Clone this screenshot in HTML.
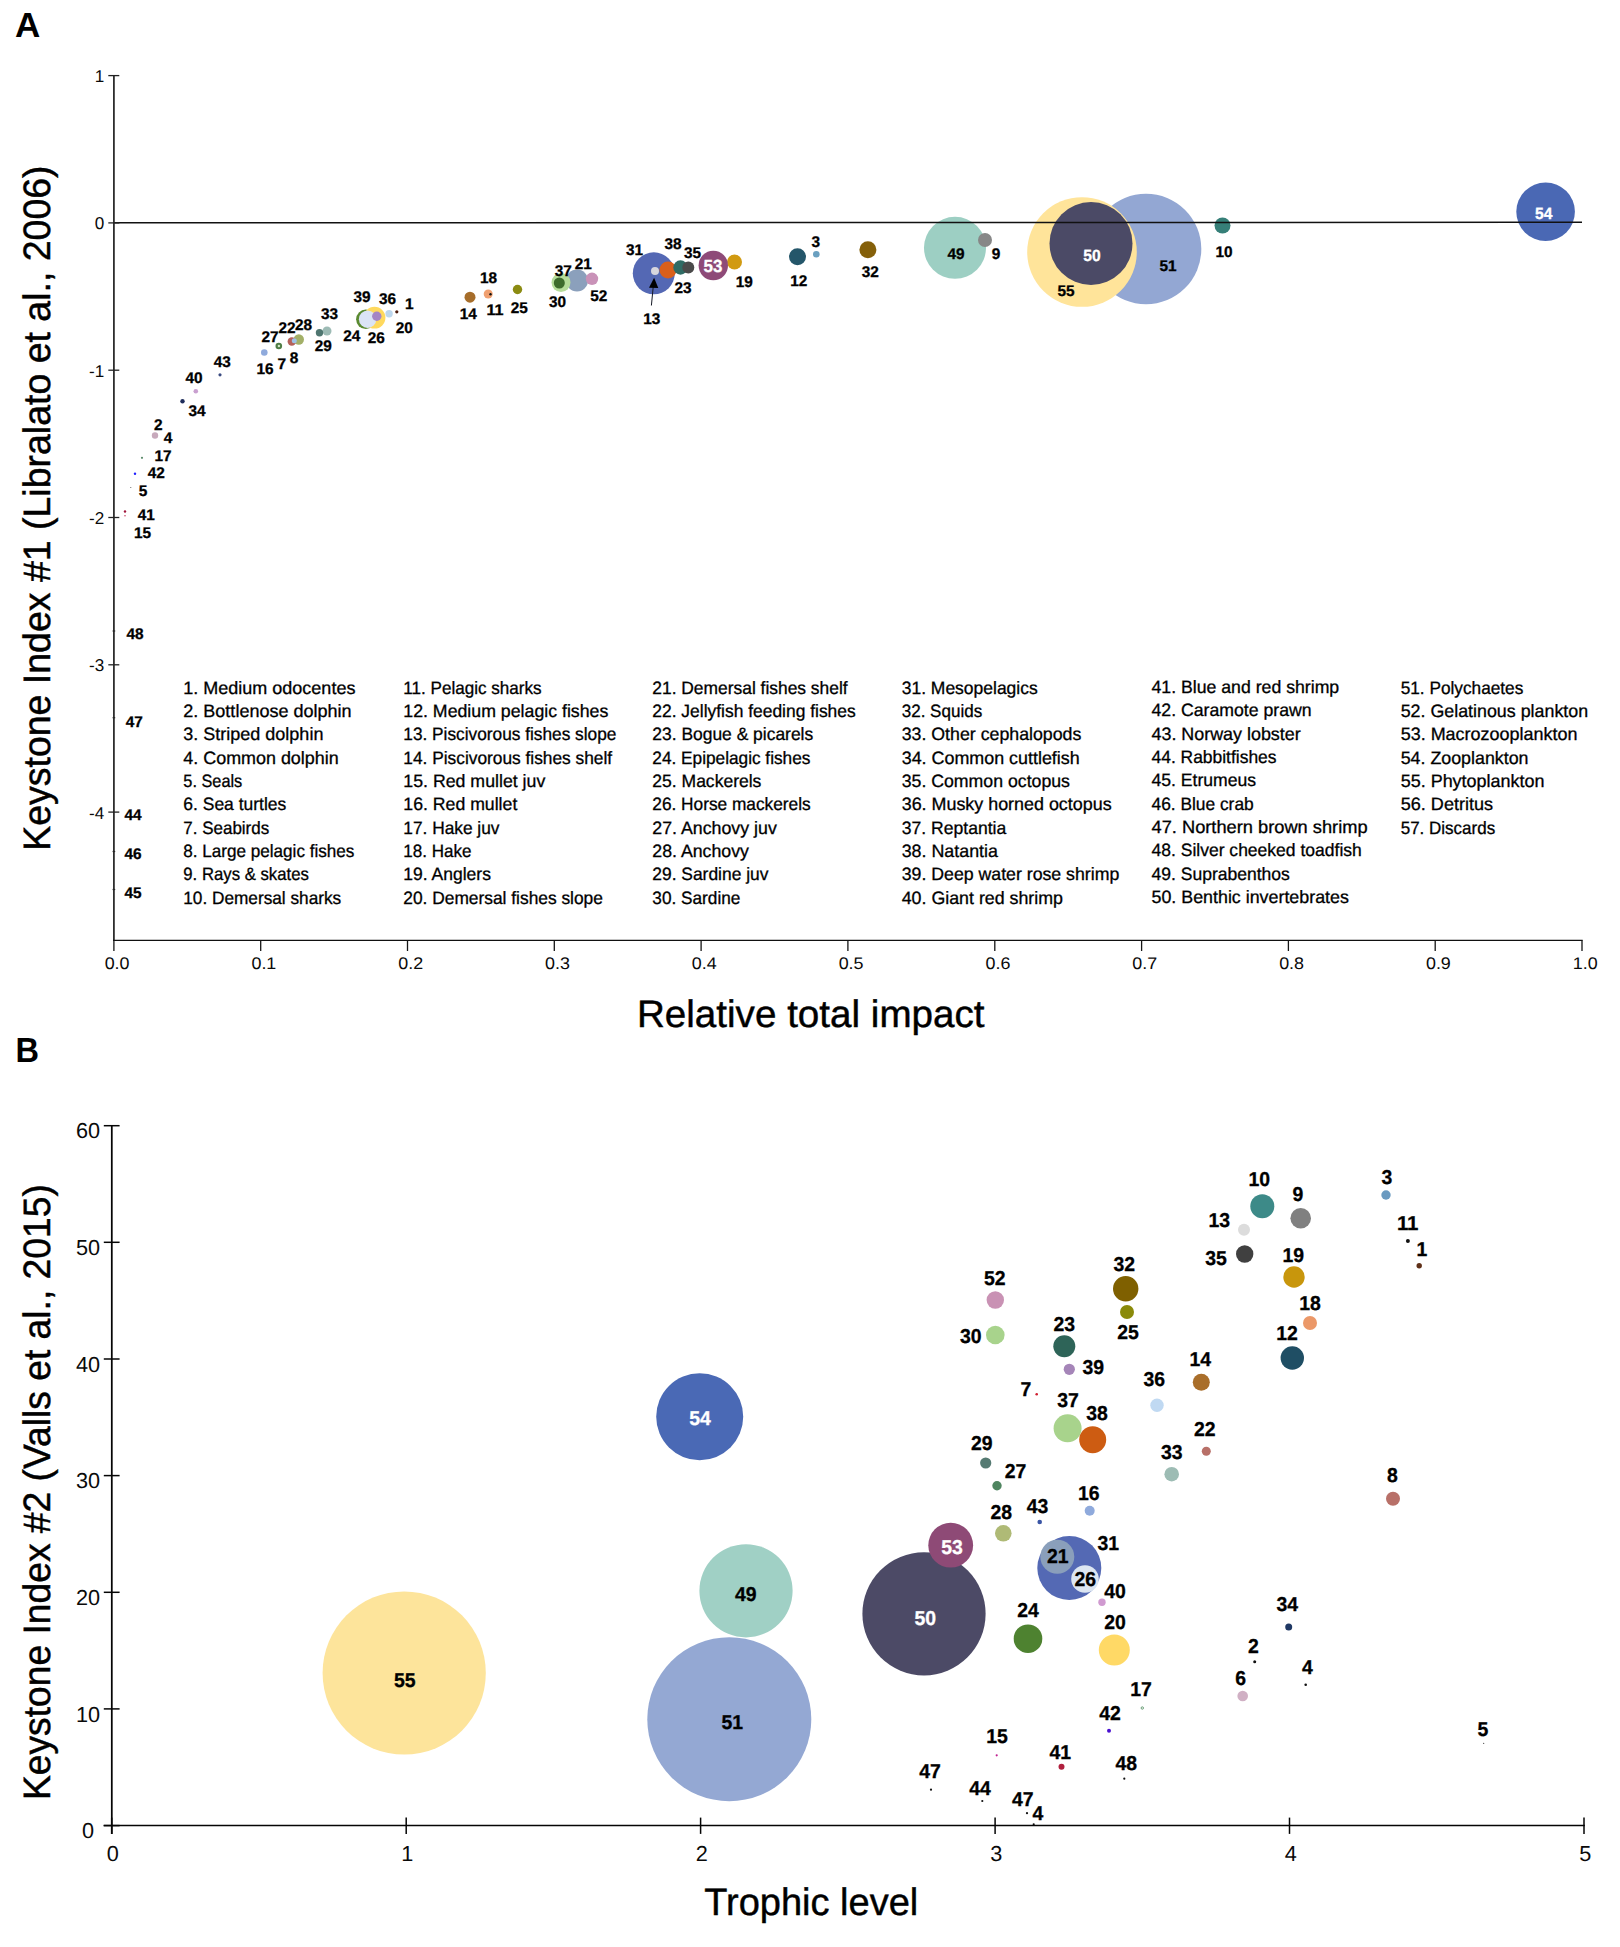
<!DOCTYPE html>
<html lang="en"><head><meta charset="utf-8"><title>Keystone indices</title>
<style>
html,body{margin:0;padding:0;background:#fff}
svg{display:block}
text{font-family:"Liberation Sans",sans-serif;fill:#000;text-rendering:geometricPrecision}
.b{font-weight:700;text-anchor:middle;stroke-width:0.3px}
.t{fill:#0a0a0a}
.p{font-weight:700}
.l{stroke:#000;stroke-width:0.3px}
.r{stroke:#000;stroke-width:0.45px}
</style></head><body>
<svg width="1620" height="1947" viewBox="0 0 1620 1947">
<rect width="1620" height="1947" fill="#fff"/>
<circle cx="1146.0" cy="249.0" r="55.30" fill="#93a7d3"/>
<circle cx="1082.0" cy="252.0" r="54.80" fill="#ffe49a"/>
<circle cx="1091.0" cy="243.5" r="41.50" fill="#4b4a66"/>
<circle cx="955.0" cy="247.8" r="31.00" fill="#9dcfc3"/>
<circle cx="985.0" cy="240.0" r="7.00" fill="#878787"/>
<circle cx="1222.5" cy="225.5" r="8.00" fill="#367f78"/>
<circle cx="1545.6" cy="211.7" r="29.30" fill="#4a68b4"/>
<circle cx="867.9" cy="249.8" r="8.50" fill="#85600a"/>
<circle cx="797.5" cy="256.8" r="8.50" fill="#24566a"/>
<circle cx="816.3" cy="254.3" r="3.30" fill="#6aa0c0"/>
<circle cx="734.5" cy="262.0" r="7.50" fill="#d19a11"/>
<circle cx="653.8" cy="273.3" r="21.00" fill="#5468b4"/>
<circle cx="655.0" cy="271.0" r="4.00" fill="#d6d6de"/>
<circle cx="668.0" cy="270.0" r="8.50" fill="#d95f1a"/>
<circle cx="680.5" cy="267.5" r="7.20" fill="#2f6b64"/>
<circle cx="688.3" cy="267.5" r="6.00" fill="#4a4a4a"/>
<circle cx="713.3" cy="265.5" r="14.70" fill="#8e4a78"/>
<circle cx="577.0" cy="280.5" r="11.00" fill="#8ba0bc"/>
<circle cx="561.0" cy="282.5" r="9.50" fill="#b5dc9a"/>
<circle cx="559.3" cy="283.0" r="5.50" fill="#3d6b2c"/>
<circle cx="592.0" cy="278.8" r="6.20" fill="#c992b8"/>
<circle cx="517.5" cy="289.5" r="4.70" fill="#8b8b12"/>
<circle cx="488.2" cy="294.0" r="4.50" fill="#f0a070"/>
<circle cx="490.5" cy="294.2" r="1.20" fill="#111"/>
<circle cx="470.0" cy="297.2" r="5.50" fill="#a66d2a"/>
<circle cx="396.8" cy="311.8" r="1.60" fill="#4a1a0c"/>
<circle cx="389.1" cy="313.8" r="3.70" fill="#bdd7ee"/>
<circle cx="365.8" cy="319.3" r="9.70" fill="#5a8a30"/>
<circle cx="374.5" cy="317.7" r="10.90" fill="#ffd95e"/>
<circle cx="367.6" cy="319.2" r="8.70" fill="#dbe4f5"/>
<circle cx="376.8" cy="316.2" r="4.70" fill="#a585c4"/>
<circle cx="327.0" cy="331.0" r="4.50" fill="#9dbbb5"/>
<circle cx="319.5" cy="332.8" r="3.70" fill="#4f7670"/>
<circle cx="298.8" cy="339.5" r="5.20" fill="#a3b068"/>
<circle cx="291.8" cy="341.5" r="4.20" fill="#b5615a"/>
<circle cx="294.3" cy="340.8" r="2.50" fill="#9dc3e6"/>
<circle cx="278.8" cy="346.0" r="3.30" fill="#4f7d45"/>
<circle cx="278.9" cy="346.0" r="1.20" fill="#d4e8c8"/>
<circle cx="264.3" cy="352.5" r="3.30" fill="#8faadc"/>
<circle cx="220.0" cy="374.8" r="1.60" fill="#3a4a80"/>
<circle cx="195.8" cy="391.3" r="2.30" fill="#c9a0d0"/>
<circle cx="182.5" cy="401.3" r="2.20" fill="#1f2d5c"/>
<circle cx="155.0" cy="435.5" r="3.20" fill="#c7a9bb"/>
<circle cx="142.0" cy="457.8" r="1.10" fill="#5a8a6a"/>
<circle cx="135.0" cy="473.8" r="1.20" fill="#2020ff"/>
<circle cx="130.8" cy="487.5" r="0.50" fill="#444"/>
<circle cx="125.0" cy="511.5" r="1.20" fill="#a0153b"/>
<circle cx="125.0" cy="515.8" r="0.80" fill="#c84868"/>
<line x1="113.9" y1="222.8" x2="1582.0" y2="222.3" stroke="#111" stroke-width="1.5"/>
<line x1="113.9" y1="74.9" x2="113.9" y2="941.1" stroke="#2e2e2e" stroke-width="1.8"/>
<line x1="113.0" y1="940.4" x2="1582.7" y2="940.4" stroke="#111" stroke-width="1.4"/>
<line x1="108.3" y1="75.6" x2="119.3" y2="75.6" stroke="#222" stroke-width="1.3"/>
<text class="t" x="104.3" y="82.0" font-size="17.1" text-anchor="end">1</text>
<line x1="108.3" y1="222.9" x2="119.3" y2="222.9" stroke="#222" stroke-width="1.3"/>
<text class="t" x="104.3" y="229.3" font-size="17.1" text-anchor="end">0</text>
<line x1="108.3" y1="370.2" x2="119.3" y2="370.2" stroke="#222" stroke-width="1.3"/>
<text class="t" x="104.3" y="376.6" font-size="17.1" text-anchor="end">-1</text>
<line x1="108.3" y1="517.5" x2="119.3" y2="517.5" stroke="#222" stroke-width="1.3"/>
<text class="t" x="104.3" y="523.9" font-size="17.1" text-anchor="end">-2</text>
<line x1="108.3" y1="664.8" x2="119.3" y2="664.8" stroke="#222" stroke-width="1.3"/>
<text class="t" x="104.3" y="671.2" font-size="17.1" text-anchor="end">-3</text>
<line x1="108.3" y1="812.1" x2="119.3" y2="812.1" stroke="#222" stroke-width="1.3"/>
<text class="t" x="104.3" y="818.5" font-size="17.1" text-anchor="end">-4</text>
<line x1="113.9" y1="940.4" x2="113.9" y2="951.0" stroke="#151515" stroke-width="1.3"/>
<text class="t" x="117.1" y="969" font-size="16.8" text-anchor="middle" textLength="24.9" lengthAdjust="spacingAndGlyphs">0.0</text>
<line x1="260.7" y1="940.4" x2="260.7" y2="951.0" stroke="#151515" stroke-width="1.3"/>
<text class="t" x="263.9" y="969" font-size="16.8" text-anchor="middle" textLength="24.9" lengthAdjust="spacingAndGlyphs">0.1</text>
<line x1="407.5" y1="940.4" x2="407.5" y2="951.0" stroke="#151515" stroke-width="1.3"/>
<text class="t" x="410.7" y="969" font-size="16.8" text-anchor="middle" textLength="24.9" lengthAdjust="spacingAndGlyphs">0.2</text>
<line x1="554.3" y1="940.4" x2="554.3" y2="951.0" stroke="#151515" stroke-width="1.3"/>
<text class="t" x="557.5" y="969" font-size="16.8" text-anchor="middle" textLength="24.9" lengthAdjust="spacingAndGlyphs">0.3</text>
<line x1="701.1" y1="940.4" x2="701.1" y2="951.0" stroke="#151515" stroke-width="1.3"/>
<text class="t" x="704.3" y="969" font-size="16.8" text-anchor="middle" textLength="24.9" lengthAdjust="spacingAndGlyphs">0.4</text>
<line x1="847.9" y1="940.4" x2="847.9" y2="951.0" stroke="#151515" stroke-width="1.3"/>
<text class="t" x="851.1" y="969" font-size="16.8" text-anchor="middle" textLength="24.9" lengthAdjust="spacingAndGlyphs">0.5</text>
<line x1="994.8" y1="940.4" x2="994.8" y2="951.0" stroke="#151515" stroke-width="1.3"/>
<text class="t" x="998.0" y="969" font-size="16.8" text-anchor="middle" textLength="24.9" lengthAdjust="spacingAndGlyphs">0.6</text>
<line x1="1141.6" y1="940.4" x2="1141.6" y2="951.0" stroke="#151515" stroke-width="1.3"/>
<text class="t" x="1144.8" y="969" font-size="16.8" text-anchor="middle" textLength="24.9" lengthAdjust="spacingAndGlyphs">0.7</text>
<line x1="1288.4" y1="940.4" x2="1288.4" y2="951.0" stroke="#151515" stroke-width="1.3"/>
<text class="t" x="1291.6" y="969" font-size="16.8" text-anchor="middle" textLength="24.9" lengthAdjust="spacingAndGlyphs">0.8</text>
<line x1="1435.2" y1="940.4" x2="1435.2" y2="951.0" stroke="#151515" stroke-width="1.3"/>
<text class="t" x="1438.4" y="969" font-size="16.8" text-anchor="middle" textLength="24.9" lengthAdjust="spacingAndGlyphs">0.9</text>
<line x1="1582.0" y1="940.4" x2="1582.0" y2="951.0" stroke="#151515" stroke-width="1.3"/>
<text class="t" x="1585.2" y="969" font-size="16.8" text-anchor="middle" textLength="24.9" lengthAdjust="spacingAndGlyphs">1.0</text>
<line x1="112.6" y1="631.0" x2="115.2" y2="631.0" stroke="#262626" stroke-width="1.2"/>
<line x1="112.6" y1="717.7" x2="115.2" y2="717.7" stroke="#262626" stroke-width="1.2"/>
<line x1="112.6" y1="851.5" x2="115.2" y2="851.5" stroke="#262626" stroke-width="1.2"/>
<line x1="112.6" y1="889.5" x2="115.2" y2="889.5" stroke="#262626" stroke-width="1.2"/>
<line x1="653.2" y1="287.0" x2="651.4" y2="305.5" stroke="#141824" stroke-width="1.0"/>
<polygon points="654.1,277.8 649,287.8 658.3,288" fill="#000"/>
<text class="b" x="146.3" y="520.0" font-size="15.46" textLength="17.1" lengthAdjust="spacingAndGlyphs" style="fill:#000;stroke:#000">41</text>
<text class="b" x="142.5" y="538.0" font-size="15.46" textLength="17.1" lengthAdjust="spacingAndGlyphs" style="fill:#000;stroke:#000">15</text>
<text class="b" x="143.0" y="495.8" font-size="15.46" textLength="8.6" lengthAdjust="spacingAndGlyphs" style="fill:#000;stroke:#000">5</text>
<text class="b" x="156.3" y="477.5" font-size="15.46" textLength="17.1" lengthAdjust="spacingAndGlyphs" style="fill:#000;stroke:#000">42</text>
<text class="b" x="163.0" y="460.5" font-size="15.46" textLength="17.1" lengthAdjust="spacingAndGlyphs" style="fill:#000;stroke:#000">17</text>
<text class="b" x="168.0" y="442.5" font-size="15.46" textLength="8.6" lengthAdjust="spacingAndGlyphs" style="fill:#000;stroke:#000">4</text>
<text class="b" x="158.3" y="430.0" font-size="15.46" textLength="8.6" lengthAdjust="spacingAndGlyphs" style="fill:#000;stroke:#000">2</text>
<text class="b" x="197.0" y="415.8" font-size="15.46" textLength="17.1" lengthAdjust="spacingAndGlyphs" style="fill:#000;stroke:#000">34</text>
<text class="b" x="194.0" y="383.3" font-size="15.46" textLength="17.1" lengthAdjust="spacingAndGlyphs" style="fill:#000;stroke:#000">40</text>
<text class="b" x="222.3" y="366.8" font-size="15.46" textLength="17.1" lengthAdjust="spacingAndGlyphs" style="fill:#000;stroke:#000">43</text>
<text class="b" x="265.0" y="373.8" font-size="15.46" textLength="17.1" lengthAdjust="spacingAndGlyphs" style="fill:#000;stroke:#000">16</text>
<text class="b" x="281.8" y="369.3" font-size="15.46" textLength="8.6" lengthAdjust="spacingAndGlyphs" style="fill:#000;stroke:#000">7</text>
<text class="b" x="294.0" y="362.5" font-size="15.46" textLength="8.6" lengthAdjust="spacingAndGlyphs" style="fill:#000;stroke:#000">8</text>
<text class="b" x="270.0" y="342.0" font-size="15.46" textLength="17.1" lengthAdjust="spacingAndGlyphs" style="fill:#000;stroke:#000">27</text>
<text class="b" x="287.0" y="333.0" font-size="15.46" textLength="17.1" lengthAdjust="spacingAndGlyphs" style="fill:#000;stroke:#000">22</text>
<text class="b" x="303.5" y="330.3" font-size="15.46" textLength="17.1" lengthAdjust="spacingAndGlyphs" style="fill:#000;stroke:#000">28</text>
<text class="b" x="329.5" y="319.0" font-size="15.46" textLength="17.1" lengthAdjust="spacingAndGlyphs" style="fill:#000;stroke:#000">33</text>
<text class="b" x="323.3" y="351.3" font-size="15.46" textLength="17.1" lengthAdjust="spacingAndGlyphs" style="fill:#000;stroke:#000">29</text>
<text class="b" x="351.8" y="341.0" font-size="15.46" textLength="17.1" lengthAdjust="spacingAndGlyphs" style="fill:#000;stroke:#000">24</text>
<text class="b" x="376.3" y="343.3" font-size="15.46" textLength="17.1" lengthAdjust="spacingAndGlyphs" style="fill:#000;stroke:#000">26</text>
<text class="b" x="362.0" y="301.5" font-size="15.46" textLength="17.1" lengthAdjust="spacingAndGlyphs" style="fill:#000;stroke:#000">39</text>
<text class="b" x="387.5" y="304.3" font-size="15.46" textLength="17.1" lengthAdjust="spacingAndGlyphs" style="fill:#000;stroke:#000">36</text>
<text class="b" x="409.3" y="308.8" font-size="15.46" textLength="8.6" lengthAdjust="spacingAndGlyphs" style="fill:#000;stroke:#000">1</text>
<text class="b" x="404.3" y="332.8" font-size="15.46" textLength="17.1" lengthAdjust="spacingAndGlyphs" style="fill:#000;stroke:#000">20</text>
<text class="b" x="468.3" y="319.4" font-size="15.46" textLength="17.1" lengthAdjust="spacingAndGlyphs" style="fill:#000;stroke:#000">14</text>
<text class="b" x="495.0" y="314.6" font-size="15.46" textLength="17.1" lengthAdjust="spacingAndGlyphs" style="fill:#000;stroke:#000">11</text>
<text class="b" x="488.6" y="283.0" font-size="15.46" textLength="17.1" lengthAdjust="spacingAndGlyphs" style="fill:#000;stroke:#000">18</text>
<text class="b" x="519.3" y="312.5" font-size="15.46" textLength="17.1" lengthAdjust="spacingAndGlyphs" style="fill:#000;stroke:#000">25</text>
<text class="b" x="557.5" y="306.8" font-size="15.46" textLength="17.1" lengthAdjust="spacingAndGlyphs" style="fill:#000;stroke:#000">30</text>
<text class="b" x="563.3" y="275.8" font-size="15.46" textLength="17.1" lengthAdjust="spacingAndGlyphs" style="fill:#000;stroke:#000">37</text>
<text class="b" x="583.3" y="268.8" font-size="15.46" textLength="17.1" lengthAdjust="spacingAndGlyphs" style="fill:#000;stroke:#000">21</text>
<text class="b" x="598.8" y="301.3" font-size="15.46" textLength="17.1" lengthAdjust="spacingAndGlyphs" style="fill:#000;stroke:#000">52</text>
<text class="b" x="634.5" y="254.5" font-size="15.46" textLength="17.1" lengthAdjust="spacingAndGlyphs" style="fill:#000;stroke:#000">31</text>
<text class="b" x="673.0" y="248.5" font-size="15.46" textLength="17.1" lengthAdjust="spacingAndGlyphs" style="fill:#000;stroke:#000">38</text>
<text class="b" x="692.5" y="257.5" font-size="15.46" textLength="17.1" lengthAdjust="spacingAndGlyphs" style="fill:#000;stroke:#000">35</text>
<text class="b" x="683.0" y="293.3" font-size="15.46" textLength="17.1" lengthAdjust="spacingAndGlyphs" style="fill:#000;stroke:#000">23</text>
<text class="b" x="744.3" y="286.8" font-size="15.46" textLength="17.1" lengthAdjust="spacingAndGlyphs" style="fill:#000;stroke:#000">19</text>
<text class="b" x="651.8" y="323.8" font-size="15.46" textLength="17.1" lengthAdjust="spacingAndGlyphs" style="fill:#000;stroke:#000">13</text>
<text class="b" x="798.8" y="285.5" font-size="15.46" textLength="17.1" lengthAdjust="spacingAndGlyphs" style="fill:#000;stroke:#000">12</text>
<text class="b" x="815.8" y="246.8" font-size="15.46" textLength="8.6" lengthAdjust="spacingAndGlyphs" style="fill:#000;stroke:#000">3</text>
<text class="b" x="870.2" y="276.7" font-size="15.46" textLength="17.1" lengthAdjust="spacingAndGlyphs" style="fill:#000;stroke:#000">32</text>
<text class="b" x="956.0" y="258.8" font-size="15.46" textLength="17.1" lengthAdjust="spacingAndGlyphs" style="fill:#000;stroke:#000">49</text>
<text class="b" x="996.0" y="259.0" font-size="15.46" textLength="8.6" lengthAdjust="spacingAndGlyphs" style="fill:#000;stroke:#000">9</text>
<text class="b" x="1066.0" y="296.0" font-size="15.46" textLength="17.1" lengthAdjust="spacingAndGlyphs" style="fill:#000;stroke:#000">55</text>
<text class="b" x="1168.0" y="270.8" font-size="15.46" textLength="17.1" lengthAdjust="spacingAndGlyphs" style="fill:#000;stroke:#000">51</text>
<text class="b" x="1224.0" y="257.0" font-size="15.46" textLength="17.1" lengthAdjust="spacingAndGlyphs" style="fill:#000;stroke:#000">10</text>
<text class="b" x="135.0" y="639.0" font-size="15.46" textLength="17.1" lengthAdjust="spacingAndGlyphs" style="fill:#000;stroke:#000">48</text>
<text class="b" x="134.3" y="726.7" font-size="15.46" textLength="17.1" lengthAdjust="spacingAndGlyphs" style="fill:#000;stroke:#000">47</text>
<text class="b" x="133.1" y="820.3" font-size="15.46" textLength="17.1" lengthAdjust="spacingAndGlyphs" style="fill:#000;stroke:#000">44</text>
<text class="b" x="133.1" y="858.8" font-size="15.46" textLength="17.1" lengthAdjust="spacingAndGlyphs" style="fill:#000;stroke:#000">46</text>
<text class="b" x="133.1" y="897.5" font-size="15.46" textLength="17.1" lengthAdjust="spacingAndGlyphs" style="fill:#000;stroke:#000">45</text>
<text class="b" x="1092.0" y="260.6" font-size="16.23" textLength="17.4" lengthAdjust="spacingAndGlyphs" style="fill:#fff;stroke:#fff">50</text>
<text class="b" x="1543.8" y="218.6" font-size="16.23" textLength="17.4" lengthAdjust="spacingAndGlyphs" style="fill:#fff;stroke:#fff">54</text>
<text class="b" x="713.0" y="271.6" font-size="17.55" textLength="18.9" lengthAdjust="spacingAndGlyphs" style="fill:#fff;stroke:#fff">53</text>
<text class="l" x="183.3" y="693.7" font-size="17.9" textLength="172.1" lengthAdjust="spacingAndGlyphs">1. Medium odocentes</text>
<text class="l" x="183.3" y="717.0" font-size="17.9" textLength="168.3" lengthAdjust="spacingAndGlyphs">2. Bottlenose dolphin</text>
<text class="l" x="183.3" y="740.4" font-size="17.9" textLength="140.1" lengthAdjust="spacingAndGlyphs">3. Striped dolphin</text>
<text class="l" x="183.3" y="763.7" font-size="17.9" textLength="155.4" lengthAdjust="spacingAndGlyphs">4. Common dolphin</text>
<text class="l" x="183.3" y="787.0" font-size="17.9" textLength="59.0" lengthAdjust="spacingAndGlyphs">5. Seals</text>
<text class="l" x="183.3" y="810.3" font-size="17.9" textLength="103.0" lengthAdjust="spacingAndGlyphs">6. Sea turtles</text>
<text class="l" x="183.3" y="833.7" font-size="17.9" textLength="85.9" lengthAdjust="spacingAndGlyphs">7. Seabirds</text>
<text class="l" x="183.3" y="857.0" font-size="17.9" textLength="171.1" lengthAdjust="spacingAndGlyphs">8. Large pelagic fishes</text>
<text class="l" x="183.3" y="880.3" font-size="17.9" textLength="125.5" lengthAdjust="spacingAndGlyphs">9. Rays &amp; skates</text>
<text class="l" x="183.3" y="903.7" font-size="17.9" textLength="157.9" lengthAdjust="spacingAndGlyphs">10. Demersal sharks</text>
<text class="l" x="403.3" y="693.7" font-size="17.9" textLength="138.2" lengthAdjust="spacingAndGlyphs">11. Pelagic sharks</text>
<text class="l" x="403.3" y="717.0" font-size="17.9" textLength="205.0" lengthAdjust="spacingAndGlyphs">12. Medium pelagic fishes</text>
<text class="l" x="403.3" y="740.4" font-size="17.9" textLength="213.1" lengthAdjust="spacingAndGlyphs">13. Piscivorous fishes slope</text>
<text class="l" x="403.3" y="763.7" font-size="17.9" textLength="208.8" lengthAdjust="spacingAndGlyphs">14. Piscivorous fishes shelf</text>
<text class="l" x="403.3" y="787.0" font-size="17.9" textLength="142.0" lengthAdjust="spacingAndGlyphs">15. Red mullet juv</text>
<text class="l" x="403.3" y="810.3" font-size="17.9" textLength="114.0" lengthAdjust="spacingAndGlyphs">16. Red mullet</text>
<text class="l" x="403.3" y="833.7" font-size="17.9" textLength="96.2" lengthAdjust="spacingAndGlyphs">17. Hake juv</text>
<text class="l" x="403.3" y="857.0" font-size="17.9" textLength="68.2" lengthAdjust="spacingAndGlyphs">18. Hake</text>
<text class="l" x="403.3" y="880.3" font-size="17.9" textLength="87.6" lengthAdjust="spacingAndGlyphs">19. Anglers</text>
<text class="l" x="403.3" y="903.7" font-size="17.9" textLength="199.6" lengthAdjust="spacingAndGlyphs">20. Demersal fishes slope</text>
<text class="l" x="652.3" y="693.7" font-size="17.9" textLength="195.3" lengthAdjust="spacingAndGlyphs">21. Demersal fishes shelf</text>
<text class="l" x="652.3" y="717.0" font-size="17.9" textLength="203.4" lengthAdjust="spacingAndGlyphs">22. Jellyfish feeding fishes</text>
<text class="l" x="652.3" y="740.4" font-size="17.9" textLength="160.9" lengthAdjust="spacingAndGlyphs">23. Bogue &amp; picarels</text>
<text class="l" x="652.3" y="763.7" font-size="17.9" textLength="158.1" lengthAdjust="spacingAndGlyphs">24. Epipelagic fishes</text>
<text class="l" x="652.3" y="787.0" font-size="17.9" textLength="109.1" lengthAdjust="spacingAndGlyphs">25. Mackerels</text>
<text class="l" x="652.3" y="810.3" font-size="17.9" textLength="158.4" lengthAdjust="spacingAndGlyphs">26. Horse mackerels</text>
<text class="l" x="652.3" y="833.7" font-size="17.9" textLength="124.5" lengthAdjust="spacingAndGlyphs">27. Anchovy juv</text>
<text class="l" x="652.3" y="857.0" font-size="17.9" textLength="96.6" lengthAdjust="spacingAndGlyphs">28. Anchovy</text>
<text class="l" x="652.3" y="880.3" font-size="17.9" textLength="116.1" lengthAdjust="spacingAndGlyphs">29. Sardine juv</text>
<text class="l" x="652.3" y="903.7" font-size="17.9" textLength="88.1" lengthAdjust="spacingAndGlyphs">30. Sardine</text>
<text class="l" x="901.7" y="693.7" font-size="17.9" textLength="136.0" lengthAdjust="spacingAndGlyphs">31. Mesopelagics</text>
<text class="l" x="901.7" y="717.0" font-size="17.9" textLength="80.5" lengthAdjust="spacingAndGlyphs">32. Squids</text>
<text class="l" x="901.7" y="740.4" font-size="17.9" textLength="179.7" lengthAdjust="spacingAndGlyphs">33. Other cephalopods</text>
<text class="l" x="901.7" y="763.7" font-size="17.9" textLength="178.0" lengthAdjust="spacingAndGlyphs">34. Common cuttlefish</text>
<text class="l" x="901.7" y="787.0" font-size="17.9" textLength="168.3" lengthAdjust="spacingAndGlyphs">35. Common octopus</text>
<text class="l" x="901.7" y="810.3" font-size="17.9" textLength="209.9" lengthAdjust="spacingAndGlyphs">36. Musky horned octopus</text>
<text class="l" x="901.7" y="833.7" font-size="17.9" textLength="104.6" lengthAdjust="spacingAndGlyphs">37. Reptantia</text>
<text class="l" x="901.7" y="857.0" font-size="17.9" textLength="96.3" lengthAdjust="spacingAndGlyphs">38. Natantia</text>
<text class="l" x="901.7" y="880.3" font-size="17.9" textLength="217.6" lengthAdjust="spacingAndGlyphs">39. Deep water rose shrimp</text>
<text class="l" x="901.7" y="903.7" font-size="17.9" textLength="161.3" lengthAdjust="spacingAndGlyphs">40. Giant red shrimp</text>
<text class="l" x="1151.5" y="693.0" font-size="17.9" textLength="187.7" lengthAdjust="spacingAndGlyphs">41. Blue and red shrimp</text>
<text class="l" x="1151.5" y="716.3" font-size="17.9" textLength="160.1" lengthAdjust="spacingAndGlyphs">42. Caramote prawn</text>
<text class="l" x="1151.5" y="739.7" font-size="17.9" textLength="149.2" lengthAdjust="spacingAndGlyphs">43. Norway lobster</text>
<text class="l" x="1151.5" y="763.0" font-size="17.9" textLength="125.0" lengthAdjust="spacingAndGlyphs">44. Rabbitfishes</text>
<text class="l" x="1151.5" y="786.3" font-size="17.9" textLength="104.6" lengthAdjust="spacingAndGlyphs">45. Etrumeus</text>
<text class="l" x="1151.5" y="809.6" font-size="17.9" textLength="102.2" lengthAdjust="spacingAndGlyphs">46. Blue crab</text>
<text class="l" x="1151.5" y="833.0" font-size="17.9" textLength="216.1" lengthAdjust="spacingAndGlyphs">47. Northern brown shrimp</text>
<text class="l" x="1151.5" y="856.3" font-size="17.9" textLength="210.3" lengthAdjust="spacingAndGlyphs">48. Silver cheeked toadfish</text>
<text class="l" x="1151.5" y="879.6" font-size="17.9" textLength="138.3" lengthAdjust="spacingAndGlyphs">49. Suprabenthos</text>
<text class="l" x="1151.5" y="903.0" font-size="17.9" textLength="197.4" lengthAdjust="spacingAndGlyphs">50. Benthic invertebrates</text>
<text class="l" x="1400.7" y="693.7" font-size="17.9" textLength="122.6" lengthAdjust="spacingAndGlyphs">51. Polychaetes</text>
<text class="l" x="1400.7" y="717.0" font-size="17.9" textLength="187.4" lengthAdjust="spacingAndGlyphs">52. Gelatinous plankton</text>
<text class="l" x="1400.7" y="740.4" font-size="17.9" textLength="176.7" lengthAdjust="spacingAndGlyphs">53. Macrozooplankton</text>
<text class="l" x="1400.7" y="763.7" font-size="17.9" textLength="127.8" lengthAdjust="spacingAndGlyphs">54. Zooplankton</text>
<text class="l" x="1400.7" y="787.0" font-size="17.9" textLength="143.8" lengthAdjust="spacingAndGlyphs">55. Phytoplankton</text>
<text class="l" x="1400.7" y="810.3" font-size="17.9" textLength="92.4" lengthAdjust="spacingAndGlyphs">56. Detritus</text>
<text class="l" x="1400.7" y="833.7" font-size="17.9" textLength="94.5" lengthAdjust="spacingAndGlyphs">57. Discards</text>
<text class="r" transform="translate(49.5,850.8) rotate(-90)" font-size="38.2" textLength="685.4" lengthAdjust="spacingAndGlyphs">Keystone Index #1 (Libralato et al., 2006)</text>
<text class="r" x="636.9" y="1026.8" font-size="38.2" textLength="347.7" lengthAdjust="spacingAndGlyphs">Relative total impact</text>
<text class="p" x="15.0" y="36.9" font-size="35">A</text>
<circle cx="404.2" cy="1673.0" r="81.60" fill="#fde49b"/>
<circle cx="729.3" cy="1719.2" r="82.00" fill="#94a8d3"/>
<circle cx="746.0" cy="1590.8" r="46.60" fill="#a0d0c5"/>
<circle cx="699.7" cy="1416.7" r="43.50" fill="#4a69b5"/>
<circle cx="924.0" cy="1613.8" r="61.60" fill="#4c4a66"/>
<circle cx="950.7" cy="1545.2" r="22.40" fill="#8e4a76"/>
<circle cx="1069.3" cy="1568.0" r="32.00" fill="#5469b4"/>
<circle cx="1057.3" cy="1556.7" r="17.00" fill="#8a9fbb"/>
<circle cx="1085.0" cy="1579.0" r="13.80" fill="#dce6f2"/>
<circle cx="1102.0" cy="1602.3" r="3.70" fill="#d09ad0"/>
<circle cx="1028.0" cy="1638.7" r="14.30" fill="#4e8230"/>
<circle cx="1114.3" cy="1650.0" r="15.50" fill="#ffd966"/>
<circle cx="1003.3" cy="1533.3" r="8.30" fill="#afba76"/>
<circle cx="1039.7" cy="1522.0" r="2.30" fill="#3a55a5"/>
<circle cx="997.0" cy="1485.7" r="4.70" fill="#4f8560"/>
<circle cx="985.7" cy="1463.0" r="5.60" fill="#557a72"/>
<circle cx="995.3" cy="1335.0" r="9.30" fill="#a8d38c"/>
<circle cx="995.3" cy="1300.0" r="8.70" fill="#c992b4"/>
<circle cx="1064.3" cy="1346.2" r="11.00" fill="#2e6458"/>
<circle cx="1069.3" cy="1369.3" r="5.60" fill="#a585b8"/>
<circle cx="1036.7" cy="1394.2" r="1.30" fill="#d02030"/>
<circle cx="1067.6" cy="1428.3" r="14.00" fill="#a8d38c"/>
<circle cx="1092.7" cy="1439.7" r="13.50" fill="#cd5c12"/>
<circle cx="1125.7" cy="1288.7" r="12.70" fill="#7f6000"/>
<circle cx="1127.0" cy="1312.0" r="7.00" fill="#8a8a0a"/>
<circle cx="1157.0" cy="1405.3" r="6.70" fill="#c0d9f2"/>
<circle cx="1201.3" cy="1382.3" r="8.50" fill="#a96e2a"/>
<circle cx="1206.3" cy="1451.3" r="4.50" fill="#b87068"/>
<circle cx="1171.7" cy="1474.2" r="7.30" fill="#9dbcb4"/>
<circle cx="1244.0" cy="1229.7" r="6.00" fill="#dcdcdc"/>
<circle cx="1244.7" cy="1254.0" r="8.70" fill="#404040"/>
<circle cx="1262.3" cy="1206.3" r="12.00" fill="#3d8a88"/>
<circle cx="1300.7" cy="1218.3" r="10.30" fill="#808080"/>
<circle cx="1294.0" cy="1277.0" r="10.70" fill="#c8960c"/>
<circle cx="1310.0" cy="1323.0" r="7.00" fill="#eb9868"/>
<circle cx="1292.3" cy="1358.0" r="11.70" fill="#1f4e64"/>
<circle cx="1386.0" cy="1195.0" r="4.70" fill="#6a9ac0"/>
<circle cx="1407.9" cy="1241.0" r="2.00" fill="#111"/>
<circle cx="1419.2" cy="1265.8" r="2.70" fill="#5f3018"/>
<circle cx="1393.0" cy="1498.8" r="7.00" fill="#b87068"/>
<circle cx="1089.7" cy="1510.7" r="5.00" fill="#8faadc"/>
<circle cx="1288.7" cy="1627.0" r="3.50" fill="#1f3864"/>
<circle cx="1254.7" cy="1661.7" r="1.50" fill="#111"/>
<circle cx="1305.7" cy="1684.7" r="1.30" fill="#111"/>
<circle cx="1242.7" cy="1696.0" r="5.30" fill="#d0b0c4"/>
<circle cx="1109.0" cy="1730.7" r="2.00" fill="#4a10d0"/>
<circle cx="996.7" cy="1755.3" r="1.10" fill="#c02090"/>
<circle cx="1061.5" cy="1766.8" r="3.00" fill="#b0203e"/>
<circle cx="1124.3" cy="1778.7" r="1.10" fill="#111"/>
<circle cx="931.0" cy="1789.7" r="1.10" fill="#111"/>
<circle cx="982.3" cy="1801.0" r="1.10" fill="#111"/>
<circle cx="1027.0" cy="1813.2" r="1.10" fill="#111"/>
<circle cx="1033.7" cy="1824.3" r="1.10" fill="#111"/>
<circle cx="1483.7" cy="1743.3" r="0.60" fill="#333"/>
<circle cx="1142.3" cy="1708.0" r="1.20" fill="#fff" stroke="#4a8a5a" stroke-width="0.8"/>
<line x1="111.8" y1="1125.0" x2="111.8" y2="1834.1" stroke="#050505" stroke-width="1.75"/>
<line x1="103.6" y1="1825.5" x2="1584.8" y2="1825.5" stroke="#050505" stroke-width="1.7"/>
<line x1="103.8" y1="1825.6" x2="119.6" y2="1825.6" stroke="#050505" stroke-width="1.5"/>
<text class="t" x="88" y="1838.3" font-size="21.7" text-anchor="middle">0</text>
<line x1="103.8" y1="1708.9" x2="119.6" y2="1708.9" stroke="#050505" stroke-width="1.5"/>
<text class="t" x="88" y="1721.6" font-size="21.7" text-anchor="middle">10</text>
<line x1="103.8" y1="1592.3" x2="119.6" y2="1592.3" stroke="#050505" stroke-width="1.5"/>
<text class="t" x="88" y="1605.0" font-size="21.7" text-anchor="middle">20</text>
<line x1="103.8" y1="1475.6" x2="119.6" y2="1475.6" stroke="#050505" stroke-width="1.5"/>
<text class="t" x="88" y="1488.3" font-size="21.7" text-anchor="middle">30</text>
<line x1="103.8" y1="1359.0" x2="119.6" y2="1359.0" stroke="#050505" stroke-width="1.5"/>
<text class="t" x="88" y="1371.7" font-size="21.7" text-anchor="middle">40</text>
<line x1="103.8" y1="1242.3" x2="119.6" y2="1242.3" stroke="#050505" stroke-width="1.5"/>
<text class="t" x="88" y="1255.0" font-size="21.7" text-anchor="middle">50</text>
<line x1="103.8" y1="1125.7" x2="119.6" y2="1125.7" stroke="#050505" stroke-width="1.5"/>
<text class="t" x="88" y="1138.4" font-size="21.7" text-anchor="middle">60</text>
<line x1="111.7" y1="1817.6" x2="111.7" y2="1833.9" stroke="#050505" stroke-width="1.5"/>
<text class="t" x="112.9" y="1860.7" font-size="21.7" text-anchor="middle">0</text>
<line x1="406.2" y1="1817.6" x2="406.2" y2="1833.9" stroke="#050505" stroke-width="1.5"/>
<text class="t" x="407.4" y="1860.7" font-size="21.7" text-anchor="middle">1</text>
<line x1="700.6" y1="1817.6" x2="700.6" y2="1833.9" stroke="#050505" stroke-width="1.5"/>
<text class="t" x="701.8" y="1860.7" font-size="21.7" text-anchor="middle">2</text>
<line x1="995.1" y1="1817.6" x2="995.1" y2="1833.9" stroke="#050505" stroke-width="1.5"/>
<text class="t" x="996.3" y="1860.7" font-size="21.7" text-anchor="middle">3</text>
<line x1="1289.5" y1="1817.6" x2="1289.5" y2="1833.9" stroke="#050505" stroke-width="1.5"/>
<text class="t" x="1290.7" y="1860.7" font-size="21.7" text-anchor="middle">4</text>
<line x1="1584.0" y1="1817.6" x2="1584.0" y2="1833.9" stroke="#050505" stroke-width="1.5"/>
<text class="t" x="1585.2" y="1860.7" font-size="21.7" text-anchor="middle">5</text>
<text class="b" x="404.7" y="1686.9" font-size="20.09" textLength="21.6" lengthAdjust="spacingAndGlyphs" style="fill:#000;stroke:#000">55</text>
<text class="b" x="732.3" y="1729.2" font-size="20.09" textLength="21.6" lengthAdjust="spacingAndGlyphs" style="fill:#000;stroke:#000">51</text>
<text class="b" x="745.7" y="1600.9" font-size="20.09" textLength="21.6" lengthAdjust="spacingAndGlyphs" style="fill:#000;stroke:#000">49</text>
<text class="b" x="1028.0" y="1616.9" font-size="20.09" textLength="21.6" lengthAdjust="spacingAndGlyphs" style="fill:#000;stroke:#000">24</text>
<text class="b" x="1001.3" y="1518.6" font-size="20.09" textLength="21.6" lengthAdjust="spacingAndGlyphs" style="fill:#000;stroke:#000">28</text>
<text class="b" x="1037.5" y="1512.6" font-size="20.09" textLength="21.6" lengthAdjust="spacingAndGlyphs" style="fill:#000;stroke:#000">43</text>
<text class="b" x="1015.5" y="1477.6" font-size="20.09" textLength="21.6" lengthAdjust="spacingAndGlyphs" style="fill:#000;stroke:#000">27</text>
<text class="b" x="981.8" y="1449.9" font-size="20.09" textLength="21.6" lengthAdjust="spacingAndGlyphs" style="fill:#000;stroke:#000">29</text>
<text class="b" x="970.7" y="1342.9" font-size="20.09" textLength="21.6" lengthAdjust="spacingAndGlyphs" style="fill:#000;stroke:#000">30</text>
<text class="b" x="994.7" y="1285.2" font-size="20.09" textLength="21.6" lengthAdjust="spacingAndGlyphs" style="fill:#000;stroke:#000">52</text>
<text class="b" x="1064.2" y="1330.9" font-size="20.09" textLength="21.6" lengthAdjust="spacingAndGlyphs" style="fill:#000;stroke:#000">23</text>
<text class="b" x="1093.3" y="1374.2" font-size="20.09" textLength="21.6" lengthAdjust="spacingAndGlyphs" style="fill:#000;stroke:#000">39</text>
<text class="b" x="1026.0" y="1396.2" font-size="20.09" textLength="10.8" lengthAdjust="spacingAndGlyphs" style="fill:#000;stroke:#000">7</text>
<text class="b" x="1068.0" y="1407.3" font-size="20.09" textLength="21.6" lengthAdjust="spacingAndGlyphs" style="fill:#000;stroke:#000">37</text>
<text class="b" x="1097.0" y="1420.2" font-size="20.09" textLength="21.6" lengthAdjust="spacingAndGlyphs" style="fill:#000;stroke:#000">38</text>
<text class="b" x="1088.7" y="1499.9" font-size="20.09" textLength="21.6" lengthAdjust="spacingAndGlyphs" style="fill:#000;stroke:#000">16</text>
<text class="b" x="1124.3" y="1271.2" font-size="20.09" textLength="21.6" lengthAdjust="spacingAndGlyphs" style="fill:#000;stroke:#000">32</text>
<text class="b" x="1128.0" y="1338.6" font-size="20.09" textLength="21.6" lengthAdjust="spacingAndGlyphs" style="fill:#000;stroke:#000">25</text>
<text class="b" x="1154.3" y="1385.9" font-size="20.09" textLength="21.6" lengthAdjust="spacingAndGlyphs" style="fill:#000;stroke:#000">36</text>
<text class="b" x="1200.3" y="1366.2" font-size="20.09" textLength="21.6" lengthAdjust="spacingAndGlyphs" style="fill:#000;stroke:#000">14</text>
<text class="b" x="1204.7" y="1435.6" font-size="20.09" textLength="21.6" lengthAdjust="spacingAndGlyphs" style="fill:#000;stroke:#000">22</text>
<text class="b" x="1171.7" y="1458.6" font-size="20.09" textLength="21.6" lengthAdjust="spacingAndGlyphs" style="fill:#000;stroke:#000">33</text>
<text class="b" x="1219.3" y="1226.9" font-size="20.09" textLength="21.6" lengthAdjust="spacingAndGlyphs" style="fill:#000;stroke:#000">13</text>
<text class="b" x="1216.0" y="1265.2" font-size="20.09" textLength="21.6" lengthAdjust="spacingAndGlyphs" style="fill:#000;stroke:#000">35</text>
<text class="b" x="1259.3" y="1185.9" font-size="20.09" textLength="21.6" lengthAdjust="spacingAndGlyphs" style="fill:#000;stroke:#000">10</text>
<text class="b" x="1298.0" y="1201.2" font-size="20.09" textLength="10.8" lengthAdjust="spacingAndGlyphs" style="fill:#000;stroke:#000">9</text>
<text class="b" x="1293.3" y="1261.6" font-size="20.09" textLength="21.6" lengthAdjust="spacingAndGlyphs" style="fill:#000;stroke:#000">19</text>
<text class="b" x="1310.0" y="1309.6" font-size="20.09" textLength="21.6" lengthAdjust="spacingAndGlyphs" style="fill:#000;stroke:#000">18</text>
<text class="b" x="1287.0" y="1339.6" font-size="20.09" textLength="21.6" lengthAdjust="spacingAndGlyphs" style="fill:#000;stroke:#000">12</text>
<text class="b" x="1387.0" y="1184.2" font-size="20.09" textLength="10.8" lengthAdjust="spacingAndGlyphs" style="fill:#000;stroke:#000">3</text>
<text class="b" x="1407.7" y="1229.9" font-size="20.09" textLength="21.6" lengthAdjust="spacingAndGlyphs" style="fill:#000;stroke:#000">11</text>
<text class="b" x="1422.0" y="1256.2" font-size="20.09" textLength="10.8" lengthAdjust="spacingAndGlyphs" style="fill:#000;stroke:#000">1</text>
<text class="b" x="1392.5" y="1481.9" font-size="20.09" textLength="10.8" lengthAdjust="spacingAndGlyphs" style="fill:#000;stroke:#000">8</text>
<text class="b" x="1108.3" y="1550.2" font-size="20.09" textLength="21.6" lengthAdjust="spacingAndGlyphs" style="fill:#000;stroke:#000">31</text>
<text class="b" x="1057.7" y="1563.3" font-size="20.09" textLength="21.6" lengthAdjust="spacingAndGlyphs" style="fill:#000;stroke:#000">21</text>
<text class="b" x="1085.3" y="1586.3" font-size="20.09" textLength="21.6" lengthAdjust="spacingAndGlyphs" style="fill:#000;stroke:#000">26</text>
<text class="b" x="1115.0" y="1597.9" font-size="20.09" textLength="21.6" lengthAdjust="spacingAndGlyphs" style="fill:#000;stroke:#000">40</text>
<text class="b" x="1115.0" y="1628.9" font-size="20.09" textLength="21.6" lengthAdjust="spacingAndGlyphs" style="fill:#000;stroke:#000">20</text>
<text class="b" x="1287.3" y="1610.9" font-size="20.09" textLength="21.6" lengthAdjust="spacingAndGlyphs" style="fill:#000;stroke:#000">34</text>
<text class="b" x="1253.3" y="1652.6" font-size="20.09" textLength="10.8" lengthAdjust="spacingAndGlyphs" style="fill:#000;stroke:#000">2</text>
<text class="b" x="1307.3" y="1674.2" font-size="20.09" textLength="10.8" lengthAdjust="spacingAndGlyphs" style="fill:#000;stroke:#000">4</text>
<text class="b" x="1240.7" y="1684.9" font-size="20.09" textLength="10.8" lengthAdjust="spacingAndGlyphs" style="fill:#000;stroke:#000">6</text>
<text class="b" x="1141.0" y="1695.9" font-size="20.09" textLength="21.6" lengthAdjust="spacingAndGlyphs" style="fill:#000;stroke:#000">17</text>
<text class="b" x="1110.0" y="1720.2" font-size="20.09" textLength="21.6" lengthAdjust="spacingAndGlyphs" style="fill:#000;stroke:#000">42</text>
<text class="b" x="997.0" y="1742.9" font-size="20.09" textLength="21.6" lengthAdjust="spacingAndGlyphs" style="fill:#000;stroke:#000">15</text>
<text class="b" x="1060.3" y="1758.9" font-size="20.09" textLength="21.6" lengthAdjust="spacingAndGlyphs" style="fill:#000;stroke:#000">41</text>
<text class="b" x="1126.3" y="1769.6" font-size="20.09" textLength="21.6" lengthAdjust="spacingAndGlyphs" style="fill:#000;stroke:#000">48</text>
<text class="b" x="930.0" y="1777.6" font-size="20.09" textLength="21.6" lengthAdjust="spacingAndGlyphs" style="fill:#000;stroke:#000">47</text>
<text class="b" x="980.0" y="1794.6" font-size="20.09" textLength="21.6" lengthAdjust="spacingAndGlyphs" style="fill:#000;stroke:#000">44</text>
<text class="b" x="1022.7" y="1805.9" font-size="20.09" textLength="21.6" lengthAdjust="spacingAndGlyphs" style="fill:#000;stroke:#000">47</text>
<text class="b" x="1038.0" y="1819.6" font-size="20.09" textLength="10.8" lengthAdjust="spacingAndGlyphs" style="fill:#000;stroke:#000">4</text>
<text class="b" x="1483.0" y="1735.9" font-size="20.09" textLength="10.8" lengthAdjust="spacingAndGlyphs" style="fill:#000;stroke:#000">5</text>
<text class="b" x="700.0" y="1424.6" font-size="20.09" textLength="21.6" lengthAdjust="spacingAndGlyphs" style="fill:#fff;stroke:#fff">54</text>
<text class="b" x="925.3" y="1625.2" font-size="20.09" textLength="21.6" lengthAdjust="spacingAndGlyphs" style="fill:#fff;stroke:#fff">50</text>
<text class="b" x="952.0" y="1553.6" font-size="20.09" textLength="21.6" lengthAdjust="spacingAndGlyphs" style="fill:#fff;stroke:#fff">53</text>
<text class="r" transform="translate(49.6,1800.1) rotate(-90)" font-size="38.2" textLength="615.9" lengthAdjust="spacingAndGlyphs">Keystone Index #2 (Valls et al., 2015)</text>
<text class="r" x="704.2" y="1915" font-size="38.2" textLength="214.1" lengthAdjust="spacingAndGlyphs">Trophic level</text>
<text class="p" x="15.6" y="1061.9" font-size="35" textLength="23.5" lengthAdjust="spacingAndGlyphs">B</text>
</svg>
</body></html>
